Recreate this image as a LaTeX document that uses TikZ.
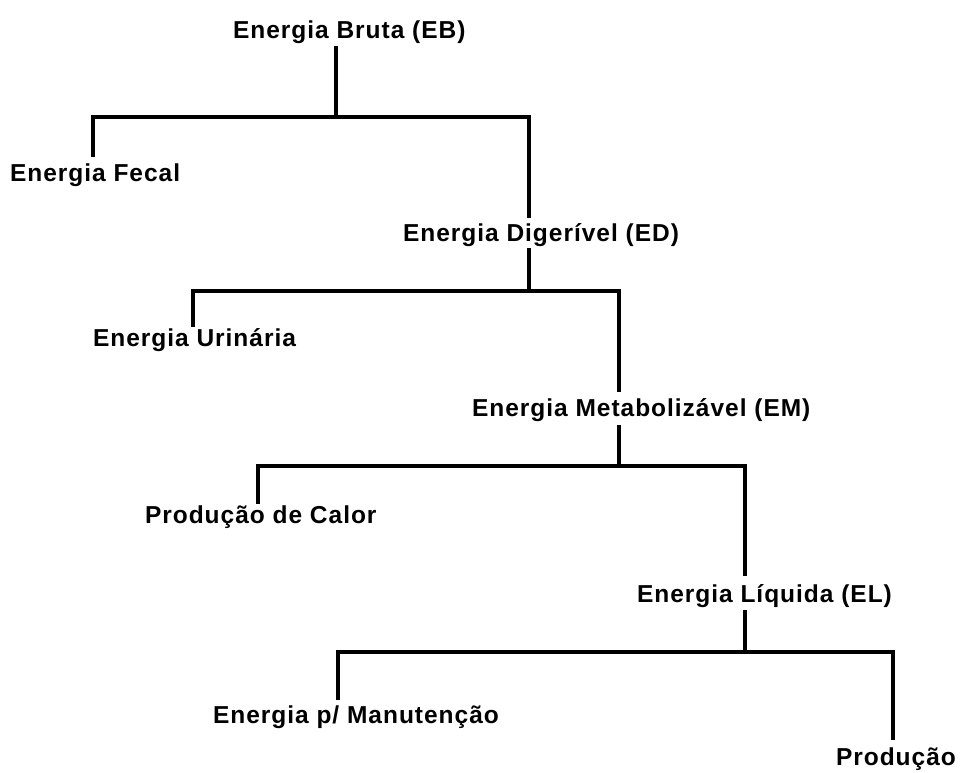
\documentclass[tikz,border=0pt]{standalone}
\usepackage{fontspec}
\setmainfont{Liberation Sans}[LetterSpace=4]
\begin{document}
\begin{tikzpicture}[x=1pt,y=-1pt,
  lbl/.style={anchor=base west,inner sep=0pt,outer sep=0pt,font=\fontsize{24.5}{28}\selectfont\bfseries},
  conn/.style={line width=3.2pt,line cap=rect,line join=miter,black}]
\useasboundingbox[fill=white] (0,0) rectangle (960,772);
% labels
\node[lbl] (EB)  at (233,38)  {Energia Bruta (EB)};
\node[lbl] (FE)  at (10,181)  {Energia Fecal};
\node[lbl] (ED)  at (403,241) {Energia Digerível (ED)};
\node[lbl] (UR)  at (93,346)  {Energia Urinária};
\node[lbl] (EM)  at (472,416) {Energia Metabolizável (EM)};
\node[lbl] (PC)  at (145,523) {Produção de Calor};
\node[lbl] (EL)  at (637,602) {Energia Líquida (EL)};
\node[lbl] (MA)  at (213,723) {Energia p/ Manutenção};
\node[lbl] (PR)  at (836,765) {Produção};
% junctions
\coordinate (j1) at (336,117); \coordinate (l1) at (93,117);  \coordinate (r1) at (529,117);
\coordinate (j2) at (529,291); \coordinate (l2) at (193,291); \coordinate (r2) at (619,291);
\coordinate (j3) at (619,466); \coordinate (l3) at (258,466); \coordinate (r3) at (745,466);
\coordinate (j4) at (745,652); \coordinate (l4) at (338,652); \coordinate (r4) at (893,652);
% level 1
\draw[conn] ([yshift=-10pt]EB.base -| j1) -- (j1);
\draw[conn] ([yshift=26pt]FE.base -| l1) -- (l1) -- (r1) -- ([yshift=25pt]ED.base -| r1);
% level 2
\draw[conn] ([yshift=-9pt]ED.base -| j2) -- (j2);
\draw[conn] ([yshift=21pt]UR.base -| l2) -- (l2) -- (r2) -- ([yshift=26pt]EM.base -| r2);
% level 3
\draw[conn] ([yshift=-11pt]EM.base -| j3) -- (j3);
\draw[conn] ([yshift=21pt]PC.base -| l3) -- (l3) -- (r3) -- ([yshift=28pt]EL.base -| r3);
% level 4
\draw[conn] ([yshift=-10pt]EL.base -| j4) -- (j4);
\draw[conn] ([yshift=25pt]MA.base -| l4) -- (l4) -- (r4) -- ([yshift=27pt]PR.base -| r4);
\end{tikzpicture}
\end{document}
